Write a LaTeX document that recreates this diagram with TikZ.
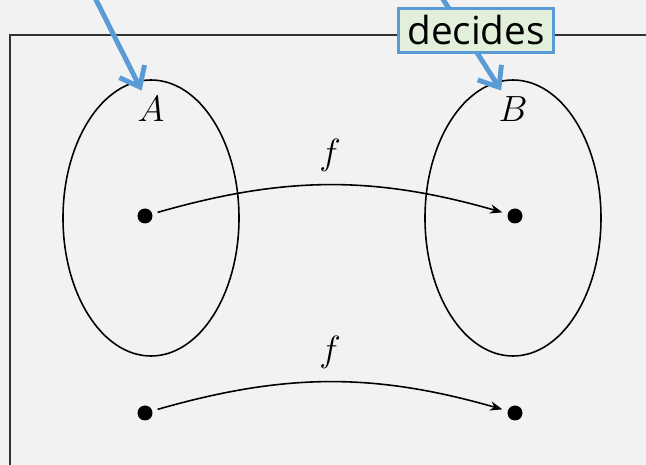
\documentclass[tikz,border=0pt]{standalone}
\usepackage{fontspec}
\usepackage{tikz}
\usetikzlibrary{positioning,arrows.meta,shapes.geometric}
\newfontfamily\tagfont{Open Sans}
\definecolor{bgGray}{HTML}{F2F2F2}
\definecolor{noteBlue}{HTML}{5B9BD5}
\definecolor{noteGreen}{HTML}{E2EFDA}

\begin{document}
\begin{tikzpicture}[
  setShape/.style={ellipse, draw, line width=0.9pt, minimum width=3.52cm,
                   minimum height=5.52cm, inner sep=0pt},
  setLabel/.style={font=\huge},
  elemDot/.style={circle, fill, minimum size=0.3cm, inner sep=0pt},
  mapArrow/.style={->, line width=0.9pt, shorten <=3pt, shorten >=3pt},
  noteArrow/.style={draw=noteBlue, line width=2.8pt,
                    -{Straight Barb[length=10pt, width=16pt]}},
  noteBox/.style={draw=noteBlue, fill=noteGreen, line width=1.6pt,
                  font=\tagfont\fontsize{22}{26}\selectfont,
                  inner xsep=0.17cm, inner ysep=0.14cm},
  >=Stealth
]
  \useasboundingbox (0,0) rectangle (12.92,-9.3);
  \fill[bgGray] (0,0) rectangle (12.92,-9.3);
  \draw[line width=1.3pt, black!80] (12.92,-0.7) -- (0.2,-0.7) -- (0.2,-9.3);

  \node[setShape] (setA) at (3.02,-4.36) {};
  \node[setShape] (setB) at (10.26,-4.36) {};
  \node[setLabel] (labA) at ([yshift=-0.6cm]setA.north) {$A$};
  \node[setLabel] (labB) at ([yshift=-0.6cm]setB.north) {$B$};

  \node[elemDot] (a1) at (2.9,-4.32) {};
  \node[elemDot] (b1) at (10.3,-4.32) {};
  \node[elemDot] (a2) at (2.9,-8.26) {};
  \node[elemDot] (b2) at (10.3,-8.26) {};
  \draw[mapArrow] (a1) to[bend left=16] node[setLabel, above=4pt] {$f$} (b1);
  \draw[mapArrow] (a2) to[bend left=16] node[setLabel, above=4pt] {$f$} (b2);

  \coordinate (srcA) at (1.52,0.8);
  \coordinate (srcB) at (8.36,0.8);
  \draw[noteArrow] (srcA) -- (labA);
  \draw[noteArrow] (srcB) -- (labB);
  \node[noteBox] (tag) at (9.52,-0.61) {decides};
\end{tikzpicture}
\end{document}
